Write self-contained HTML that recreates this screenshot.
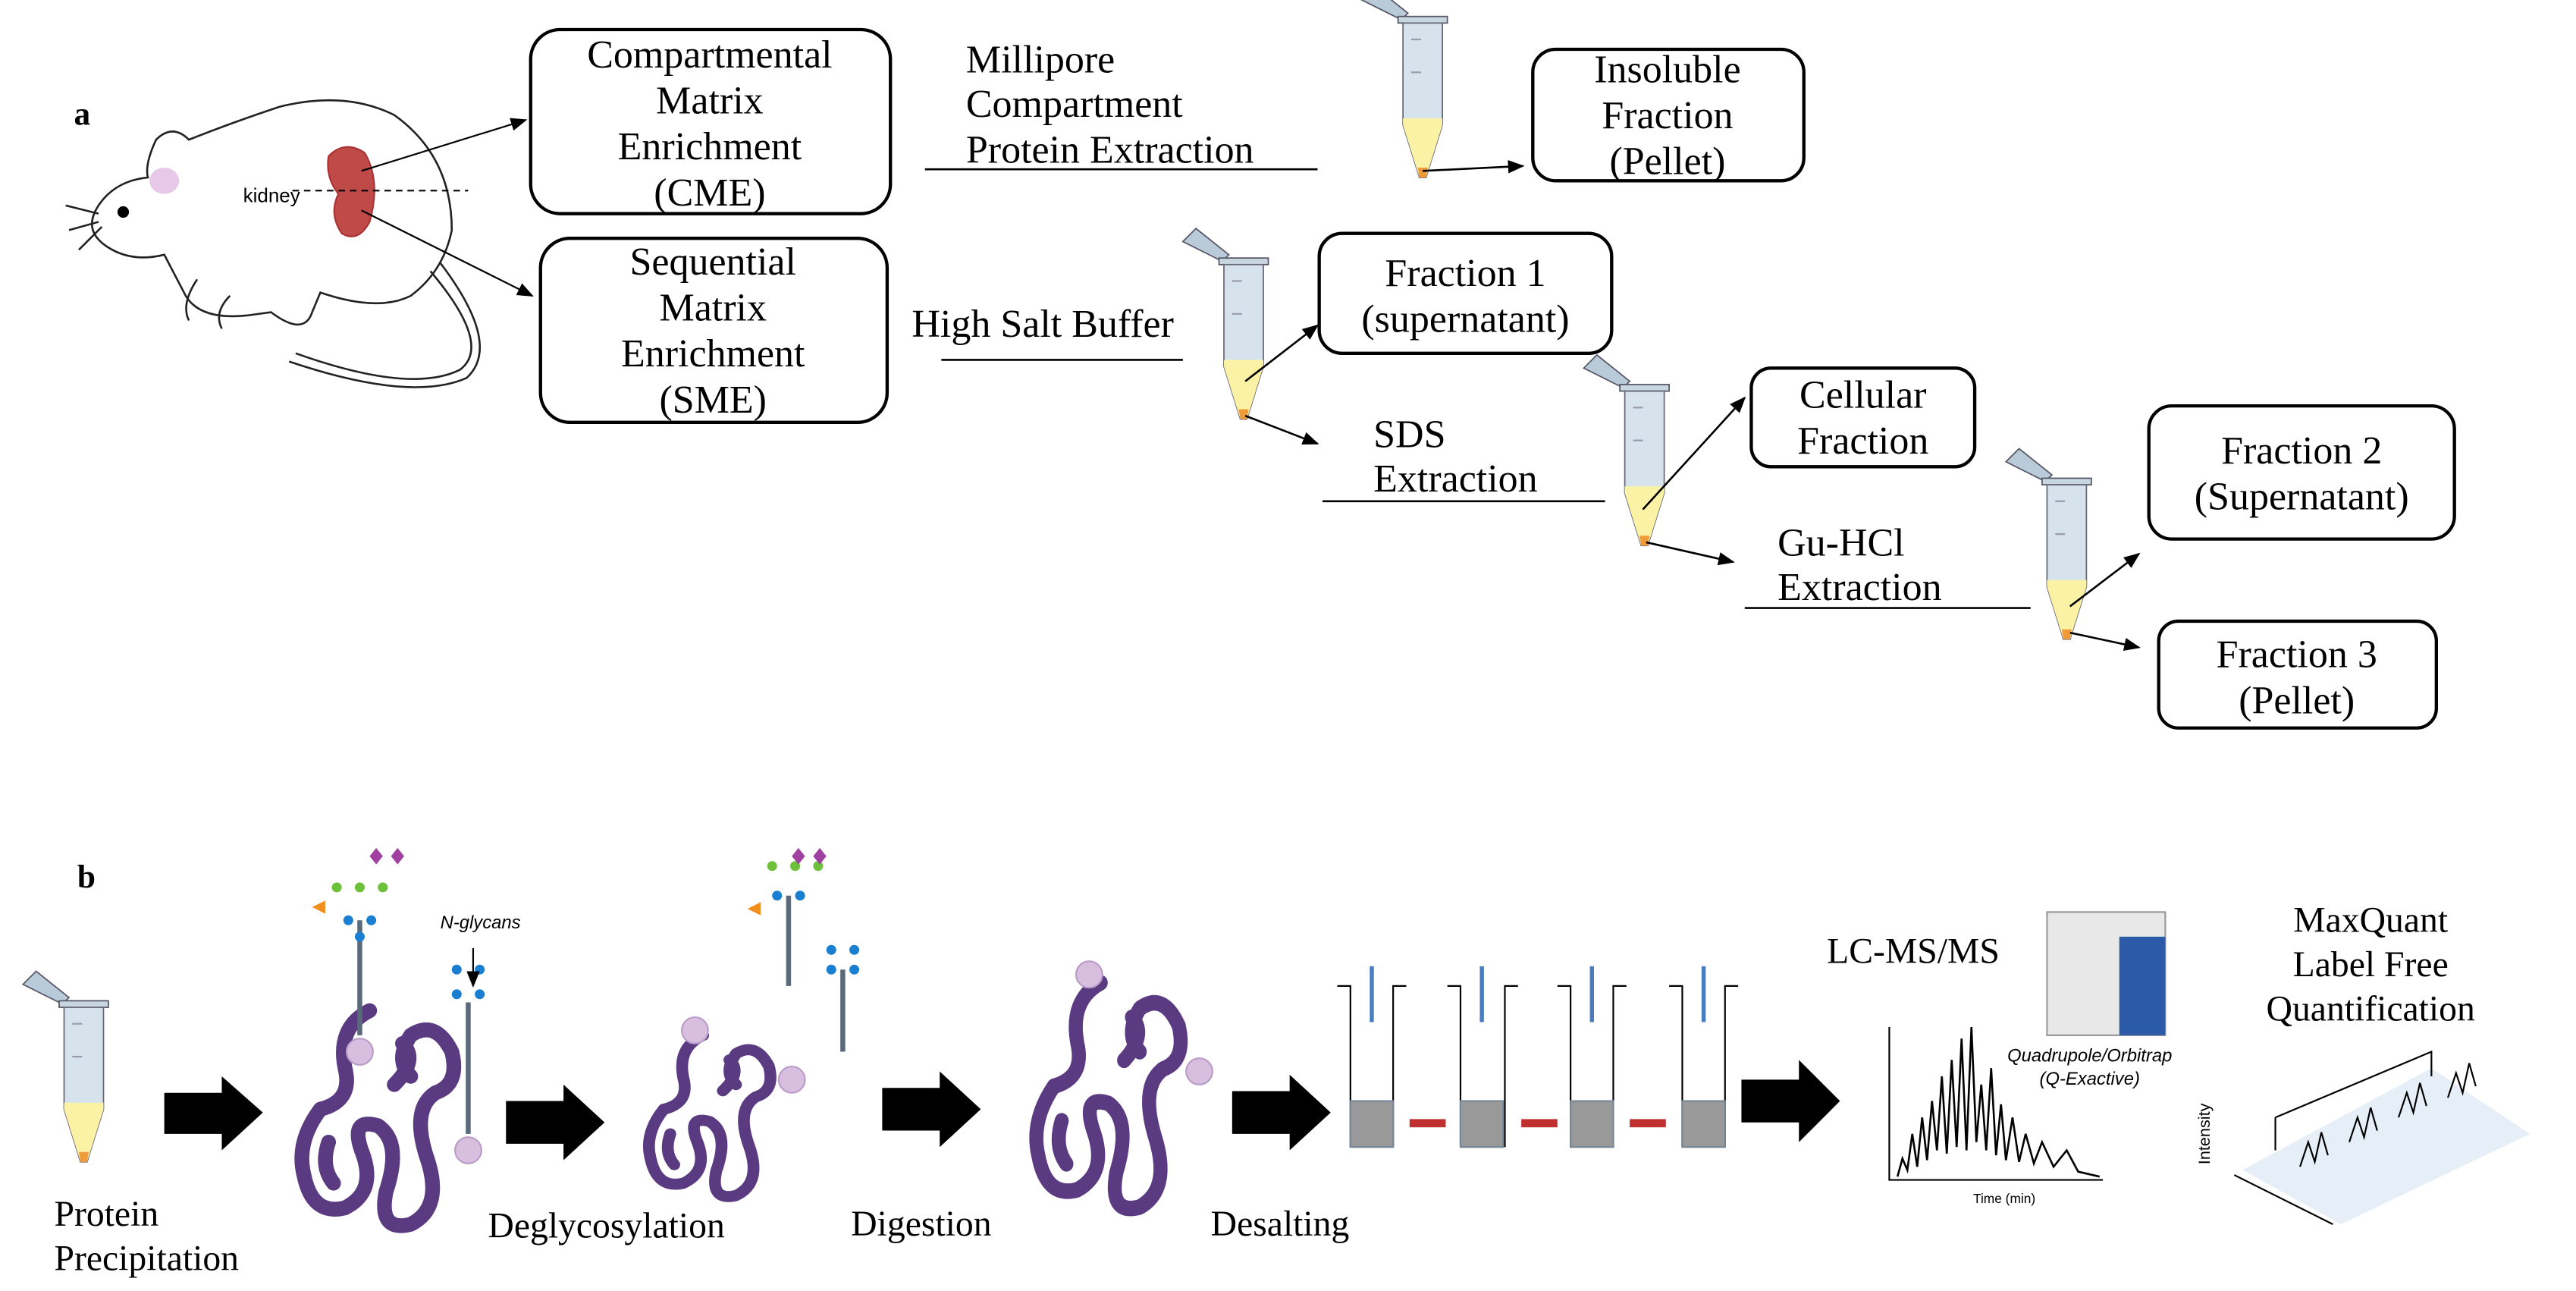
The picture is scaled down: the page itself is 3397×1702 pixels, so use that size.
<!DOCTYPE html>
<html><head><meta charset="utf-8"><style>html,body{margin:0;padding:0;background:#fff}svg{display:block}</style></head>
<body>
<svg width="3397" height="1702" viewBox="0 0 1568 785.6" xmlns="http://www.w3.org/2000/svg" font-family="Liberation Serif, serif">
<defs>
<marker id="ah" markerWidth="10" markerHeight="10" refX="9" refY="5" orient="auto" markerUnits="userSpaceOnUse"><path d="M0,1 L10,5 L0,9 Z" fill="#000"/></marker>
<g id="tube">
<path d="M-22,-58 L-14,-66 L6,-50 L2,-46 Z" fill="#b9cbd8" stroke="#556" stroke-width="0.8"/>
<rect x="0" y="-48" width="30" height="4" fill="#c8d6e0" stroke="#556" stroke-width="0.8"/>
<path d="M3,-44 L27,-44 L27,18 L17,50 L13,50 L3,18 Z" fill="#d6e2ec" stroke="#667" stroke-width="0.8"/>
<path d="M3,14 L27,14 L27,18 L17,50 L13,50 L3,18 Z" fill="#fbf2a6"/>
<path d="M12,44 L18,44 L17,50 L13,50 Z" fill="#f09a3a"/>
<line x1="8" y1="-34" x2="14" y2="-34" stroke="#99a" /><line x1="8" y1="-14" x2="14" y2="-14" stroke="#99a"/>
</g>
<g id="prot" fill="none" stroke="#5a3a80" stroke-width="9" stroke-linecap="round" stroke-linejoin="round">
<path d="M0,0 Q-20,10 -15,35 Q-10,55 -30,60 Q-45,80 -40,100 Q-35,125 -15,120 Q5,110 -5,85 Q-12,65 5,70 Q20,80 10,110 Q5,135 25,130 Q45,120 35,90 Q25,60 40,50 Q55,45 50,25 Q40,5 25,15 Q15,30 25,40"/>
<path d="M-25,80 Q-30,95 -22,105 M15,45 Q30,30 20,20"/>
</g>
</defs>
<g font-size="24" text-anchor="middle" fill="#000">
<text x="45" y="76" font-weight="bold" font-size="20" text-anchor="start">a</text>
<!-- mouse -->
<g fill="none" stroke="#222" stroke-width="1.2">
<path d="M60,125 Q50,140 65,150 Q80,160 100,155 L112,178 Q120,195 150,192 L165,190 Q185,205 190,190 L195,178 Q230,190 250,180 Q270,165 275,140 Q275,95 240,70 Q210,55 170,65 Q140,75 115,85 Q105,75 95,85 Q88,100 90,108 Q70,110 60,125 Z"/>
<path d="M262,165 Q300,210 280,225 Q250,240 180,215"/>
<path d="M268,160 Q306,210 284,230 Q250,245 176,220"/>
<path d="M60,130 L40,125 M60,135 L42,140 M62,138 L48,152"/>
<path d="M120,170 Q110,185 115,195 M140,180 Q130,190 135,200"/>
</g>
<circle cx="75" cy="129" r="3.5" fill="#000"/>
<ellipse cx="100" cy="110" rx="9" ry="8" fill="#e8c8e8"/>
<text x="148" y="123" font-family="Liberation Sans, sans-serif" font-size="12" text-anchor="start">kidney</text>
<path d="M200,95 Q210,85 222,93 Q232,110 225,135 Q218,148 208,142 Q200,130 206,118 Q198,108 200,95 Z" fill="#c04a48" stroke="#a33" />
<line x1="178" y1="116" x2="285" y2="116" stroke="#000" stroke-dasharray="4,3"/>
<line x1="220" y1="104" x2="320" y2="73" stroke="#000" marker-end="url(#ah)"/>
<line x1="220" y1="128" x2="324" y2="180" stroke="#000" marker-end="url(#ah)"/>
<g fill="none" stroke="#000" stroke-width="2">
<rect x="323" y="18" width="219" height="112" rx="18"/>
<rect x="329" y="145" width="211" height="112" rx="18"/>
<rect x="933" y="30" width="165" height="80" rx="14"/>
<rect x="803" y="142" width="178" height="73" rx="14"/>
<rect x="1066" y="224" width="136" height="60" rx="12"/>
<rect x="1308" y="247" width="186" height="81" rx="14"/>
<rect x="1314" y="378" width="169" height="65" rx="12"/>
</g>
<text x="432" y="41">Compartmental</text><text x="432" y="69">Matrix</text><text x="432" y="97">Enrichment</text><text x="432" y="125">(CME)</text>
<text x="434" y="167">Sequential</text><text x="434" y="195">Matrix</text><text x="434" y="223">Enrichment</text><text x="434" y="251">(SME)</text>
<text x="1015" y="50">Insoluble</text><text x="1015" y="78">Fraction</text><text x="1015" y="106">(Pellet)</text>
<text x="892" y="174">Fraction 1</text><text x="892" y="202">(supernatant)</text>
<text x="1134" y="248">Cellular</text><text x="1134" y="276">Fraction</text>
<text x="1401" y="282">Fraction 2</text><text x="1401" y="310">(Supernatant)</text>
<text x="1398" y="406">Fraction 3</text><text x="1398" y="434">(Pellet)</text>
<g text-anchor="start">
<text x="588" y="44">Millipore</text><text x="588" y="71">Compartment</text><text x="588" y="99">Protein Extraction</text>
<text x="555" y="205">High Salt Buffer</text>
<text x="836" y="272">SDS</text><text x="836" y="299">Extraction</text>
<text x="1082" y="338">Gu-HCl</text><text x="1082" y="365">Extraction</text>
</g>
<g stroke="#000" stroke-width="1.2">
<line x1="563" y1="103" x2="802" y2="103"/><line x1="573" y1="219" x2="720" y2="219"/>
<line x1="805" y1="305" x2="977" y2="305"/><line x1="1062" y1="370" x2="1236" y2="370"/>
</g>
<use href="#tube" x="851" y="58"/>
<use href="#tube" x="742" y="205"/>
<use href="#tube" x="986" y="282"/>
<use href="#tube" x="1243" y="339"/>
<g stroke="#000" stroke-width="1.2">
<line x1="866" y1="104" x2="927" y2="101" marker-end="url(#ah)"/>
<line x1="758" y1="232" x2="802" y2="198" marker-end="url(#ah)"/>
<line x1="758" y1="253" x2="802" y2="270" marker-end="url(#ah)"/>
<line x1="1000" y1="310" x2="1062" y2="242" marker-end="url(#ah)"/>
<line x1="1002" y1="330" x2="1055" y2="342" marker-end="url(#ah)"/>
<line x1="1260" y1="369" x2="1302" y2="337" marker-end="url(#ah)"/>
<line x1="1260" y1="385" x2="1302" y2="394" marker-end="url(#ah)"/>
</g>
<!-- part b -->
<text x="47" y="540" font-weight="bold" font-size="20" text-anchor="start">b</text>
<use href="#tube" x="36" y="657"/>
<g fill="#000">
<path d="M100,665 L135,665 L135,655 L160,677 L135,700 L135,690 L100,690 Z"/>
<path d="M308,670 L343,670 L343,660 L368,683 L343,706 L343,696 L308,696 Z"/>
<path d="M537,662 L572,662 L572,652 L597,675 L572,698 L572,688 L537,688 Z"/>
<path d="M750,664 L785,664 L785,654 L810,677 L785,700 L785,690 L750,690 Z"/>
<path d="M1060,657 L1095,657 L1095,645 L1120,670 L1095,695 L1095,683 L1060,683 Z"/>
</g>
<use href="#prot" x="225" y="615"/>
<use href="#prot" transform="translate(428,630) scale(0.8,0.75)"/>
<use href="#prot" transform="translate(670,598) scale(0.95,1.05)"/>
<g fill="#d8bfe0" stroke="#b99cc8"><circle cx="219" cy="640" r="8"/><circle cx="285" cy="700" r="8"/><circle cx="423" cy="627" r="8"/><circle cx="482" cy="657" r="8"/><circle cx="663" cy="593" r="8"/><circle cx="730" cy="652" r="8"/></g>
<g stroke="#5a6a7a" stroke-width="3">
<line x1="219" y1="630" x2="219" y2="560"/><line x1="285" y1="690" x2="285" y2="610"/>
<line x1="480" y1="600" x2="480" y2="545"/><line x1="513" y1="640" x2="513" y2="590"/>
</g>
<g fill="#1a7fd0"><circle cx="212" cy="560" r="3"/><circle cx="226" cy="560" r="3"/><circle cx="219" cy="570" r="3"/><circle cx="278" cy="605" r="3"/><circle cx="292" cy="605" r="3"/><circle cx="278" cy="590" r="3"/><circle cx="292" cy="590" r="3"/><circle cx="473" cy="545" r="3"/><circle cx="487" cy="545" r="3"/><circle cx="506" cy="590" r="3"/><circle cx="520" cy="590" r="3"/><circle cx="506" cy="578" r="3"/><circle cx="520" cy="578" r="3"/></g>
<g fill="#6cc03a"><circle cx="205" cy="540" r="3"/><circle cx="219" cy="540" r="3"/><circle cx="233" cy="540" r="3"/><circle cx="470" cy="527" r="3"/><circle cx="484" cy="527" r="3"/><circle cx="498" cy="527" r="3"/></g>
<g fill="#a040a0"><path d="M229,516 l4,5 l-4,5 l-4,-5z"/><path d="M242,516 l4,5 l-4,5 l-4,-5z"/><path d="M486,516 l4,5 l-4,5 l-4,-5z"/><path d="M499,516 l4,5 l-4,5 l-4,-5z"/></g>
<path d="M190,552 l8,-4 v8z M455,553 l8,-4 v8z" fill="#f0901a"/>
<text x="268" y="565" font-family="Liberation Sans, sans-serif" font-size="11" font-style="italic" text-anchor="start">N-glycans</text>
<line x1="288" y1="577" x2="288" y2="600" stroke="#000" marker-end="url(#ah)"/>
<g text-anchor="start" font-size="22">
<text x="33" y="746">Protein</text><text x="33" y="773">Precipitation</text>
<text x="297" y="753">Deglycosylation</text><text x="518" y="752">Digestion</text><text x="737" y="752">Desalting</text>
<text x="1112" y="586">LC-MS/MS</text>
</g>
<g stroke="#000" stroke-width="1" fill="none">
<path d="M814,600 h8 v98 M848,698 v-98 h8"/><path d="M881,600 h8 v98 M916,698 v-98 h8"/><path d="M948,600 h8 v98 M982,698 v-98 h8"/><path d="M1016,600 h8 v98 M1050,698 v-98 h8"/>
</g>
<g fill="#999" stroke="#789"><rect x="822" y="670" width="26" height="28"/><rect x="889" y="670" width="26" height="28"/><rect x="956" y="670" width="26" height="28"/><rect x="1024" y="670" width="26" height="28"/></g>
<g stroke="#4a7cc0" stroke-width="2.5"><line x1="835" y1="588" x2="835" y2="622"/><line x1="902" y1="588" x2="902" y2="622"/><line x1="969" y1="588" x2="969" y2="622"/><line x1="1037" y1="588" x2="1037" y2="622"/></g>
<g fill="#c03030"><rect x="858" y="681" width="22" height="5"/><rect x="926" y="681" width="22" height="5"/><rect x="992" y="681" width="22" height="5"/></g>
<rect x="1246" y="555" width="72" height="75" fill="#e8e8e8" stroke="#999"/><rect x="1290" y="570" width="28" height="60" fill="#2a5aa8"/>
<text x="1272" y="646" font-family="Liberation Sans, sans-serif" font-size="11" font-style="italic">Quadrupole/Orbitrap</text>
<text x="1272" y="660" font-family="Liberation Sans, sans-serif" font-size="11" font-style="italic">(Q-Exactive)</text>
<path d="M1150,625 V718 H1280" fill="none" stroke="#000"/>
<path d="M1155,716 L1158,705 L1161,712 L1164,690 L1167,710 L1170,680 L1173,706 L1176,670 L1179,700 L1182,655 L1185,702 L1188,645 L1191,698 L1194,632 L1197,700 L1200,625 L1203,695 L1206,660 L1209,700 L1212,650 L1215,703 L1218,672 L1221,706 L1225,680 L1229,707 L1233,690 L1238,708 L1243,695 L1250,710 L1258,700 L1265,713 L1278,716" fill="none" stroke="#000" stroke-width="1.2"/>
<text x="1220" y="732" font-family="Liberation Sans, sans-serif" font-size="8">Time (min)</text>
<text x="1443" y="567" font-size="22">MaxQuant</text><text x="1443" y="594" font-size="22">Label Free</text><text x="1443" y="621" font-size="22">Quantification</text>
<path d="M1365,712 L1480,650 L1540,690 L1425,745 Z" fill="#e6eef8"/>
<g stroke="#000" fill="none"><path d="M1385,680 L1480,640 L1480,655 M1385,680 V700 M1360,715 L1420,745"/>
<path d="M1400,710 l5,-15 l4,12 l4,-18 l4,14 M1430,695 l5,-15 l4,12 l4,-18 l4,14 M1460,680 l5,-15 l4,12 l4,-18 l4,14 M1490,668 l5,-15 l4,12 l4,-18 l4,14"/></g>
<text x="1345" y="690" font-family="Liberation Sans, sans-serif" font-size="10" transform="rotate(-90 1345 690)">Intensity</text>
</g>
</svg>
</body></html>
